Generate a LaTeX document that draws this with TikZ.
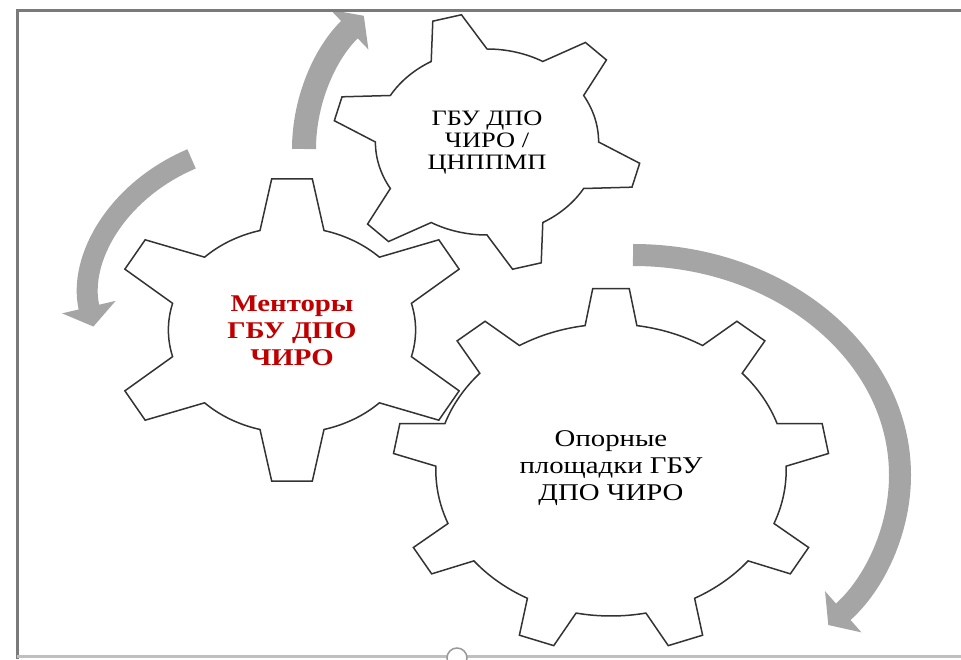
\documentclass[tikz,border=0pt]{standalone}
\usepackage{fontspec}
\setmainfont{Liberation Serif}
\newfontfamily\gearfont[FakeStretch=1.2]{Liberation Serif}
\usetikzlibrary{%
    arrows.meta,
    positioning
}
\definecolor{arrowgray}{HTML}{A5A5A5}
\definecolor{framegray}{HTML}{7A7A7A}
\definecolor{mentorred}{HTML}{C00000}
\tikzset{gearline/.style = {draw=black!80, line width=1.5pt, fill=white, line join=miter}}
\tikzset{turnarrow/.style = {draw=arrowgray, -{Triangle[width=54pt, length=20pt]}}}
\tikzset{gearlabel/.style = {align=center, font=\gearfont\fontsize{24}{27}\selectfont}}

% teeth, root radius, tip radius, first tooth angle, half base angle, half tip angle
\newcommand{\gearpath}[6]{%
    ({#4-360/#1+#5}:#2)
    \foreach \k in {1,...,#1} {
        arc[start angle={#4+(\k-2)*360/#1+#5}, end angle={#4+(\k-1)*360/#1-#5}, radius=#2]
        -- ({#4+(\k-1)*360/#1-#6}:#3) -- ({#4+(\k-1)*360/#1+#6}:#3)
        -- ({#4+(\k-1)*360/#1+#5}:#2)
    } -- cycle}

\begin{document}
\begin{tikzpicture}[x=1pt, y=1pt]
    \useasboundingbox (0,0) rectangle (961,659);

    \coordinate (hub-top) at (548,510);
    \coordinate (hub-left) at (276,362);
    \coordinate (hub-right) at (633,184);
    \foreach \Hub/\From/\To/\Rx/\Ry/\Width in {%
        hub-top/180/139/244/203/24,
        hub-left/117/191/186/155/21,
        hub-right/90/-43/267/220/22}
            \draw[turnarrow, line width=\Width] (\Hub) ++(\From:{\Rx} and {\Ry})
                arc[start angle=\From, end angle=\To, x radius=\Rx, y radius=\Ry];

    \foreach \X/\Y/\Teeth/\Root/\Tip/\First/\Base/\Top in {%
        292/329/6/103/152/90/15/6.4,
        487/517/6/93/129/45/15/5.5,
        611/189/9/146/182/90/8.5/4.8}
        {
        \begin{scope}[shift={(\X,\Y)}, xscale=1.2]
            \draw[gearline] \gearpath{\Teeth}{\Root}{\Tip}{\First}{\Base}{\Top};
        \end{scope}
        }

    \node[gearlabel, text=mentorred, font=\gearfont\bfseries\fontsize{24}{27}\selectfont]
        (mentors) at (292,328) {Менторы\\ГБУ ДПО\\ЧИРО};
    \node[gearlabel, font=\gearfont\fontsize{22}{22}\selectfont]
        (cnppmp) at (487,516) {ГБУ ДПО\\ЧИРО /\\ЦНППМП};
    \node[gearlabel] (sites) at (611,191) {Опорные\\площадки ГБУ\\ДПО ЧИРО};

    % frame of the slide
    \draw[framegray, line width=3pt] (17,0) -- (17,648) -- (961,648);
    \draw[black!25, line width=3pt] (17,3) -- (961,3);
    \draw[black!40, fill=white, line width=1.5pt] (457,1) circle (10);
\end{tikzpicture}
\end{document}
